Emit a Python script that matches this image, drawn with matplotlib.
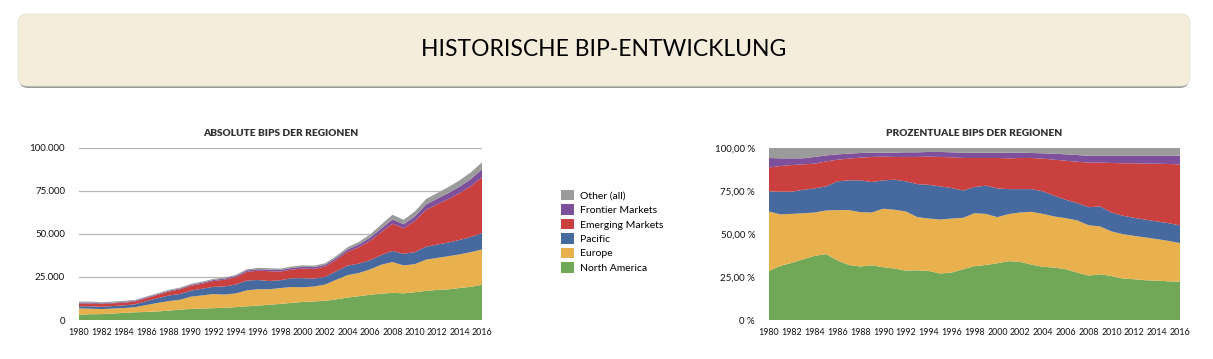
import numpy as np
import matplotlib.pyplot as plt
from matplotlib.patches import FancyBboxPatch, Patch
from matplotlib.ticker import FuncFormatter

plt.rcParams['font.family'] = ['Lato', 'DejaVu Sans']

years = np.arange(1980, 2017)

# total GDP (all regions)
total = [10.7, 10.7, 10.3, 10.7, 11.1, 11.7, 13.6, 15.5, 17.5, 18.8,
         21.0, 22.3, 23.9, 24.7, 26.2, 29.5, 30.3, 30.1, 29.9, 31.1,
         31.8, 31.6, 33.0, 37.3, 42.3, 45.4, 49.7, 55.5, 61.2, 58.3,
         63.1, 70.3, 73.8, 77.3, 81.2, 85.8, 91.7]  # thousands

# regional shares in percent
north_america = [28.5, 31.5, 33.2, 35.3, 37.3, 38.3, 34.6, 32.0, 31.1, 31.8,
                 30.7, 29.9, 28.7, 28.9, 28.5, 27.0, 27.6, 29.5, 31.3, 32.0,
                 33.0, 34.2, 33.8, 32.2, 30.9, 30.5, 29.5, 27.6, 25.8, 26.6,
                 25.6, 24.1, 23.7, 23.1, 22.9, 22.5, 22.3]
europe = [34.6, 29.9, 28.5, 26.8, 25.2, 25.4, 29.3, 31.9, 31.6, 30.7,
          34.0, 34.2, 34.4, 30.9, 30.5, 31.4, 31.4, 29.9, 30.8, 29.7,
          26.8, 27.4, 28.7, 30.7, 30.8, 29.7, 29.7, 30.3, 29.3, 27.8,
          25.9, 25.8, 25.2, 24.9, 24.1, 23.5, 22.4]
pacific = [11.7, 13.2, 12.9, 13.6, 14.0, 14.0, 16.7, 17.3, 18.5, 17.7,
           16.5, 17.5, 17.5, 19.2, 19.6, 19.3, 17.7, 15.9, 15.2, 16.4,
           16.7, 14.5, 13.6, 13.2, 13.1, 12.0, 10.7, 10.1, 10.5, 11.6,
           11.0, 10.7, 10.5, 10.3, 10.3, 10.3, 10.3]
emerging = [13.9, 14.9, 15.5, 14.8, 14.4, 14.5, 12.6, 12.6, 13.2, 14.6,
            13.8, 13.2, 14.2, 15.8, 16.4, 17.1, 17.9, 18.9, 16.9, 16.1,
            17.7, 17.9, 18.1, 18.1, 19.0, 21.0, 22.7, 24.0, 25.9, 25.5,
            28.8, 30.5, 31.7, 32.6, 33.6, 34.4, 35.5]
frontier = [5.5, 4.5, 3.9, 3.5, 3.9, 3.5, 3.1, 2.9, 2.7, 2.5,
            2.3, 2.5, 2.7, 2.7, 2.7, 2.9, 2.9, 3.1, 3.1, 3.1,
            3.1, 3.3, 3.1, 2.9, 3.1, 3.5, 3.7, 3.9, 4.0, 4.0,
            4.2, 4.4, 4.4, 4.6, 4.6, 4.8, 5.0]
other = [5.8, 6.0, 6.0, 6.0, 5.2, 4.3, 3.7, 3.3, 2.9, 2.7,
         2.7, 2.7, 2.5, 2.5, 2.3, 2.3, 2.5, 2.7, 2.7, 2.7,
         2.7, 2.7, 2.7, 2.9, 3.1, 3.3, 3.7, 4.1, 4.5, 4.5,
         4.5, 4.5, 4.5, 4.5, 4.5, 4.5, 4.5]

labels = ['North America', 'Europe', 'Pacific', 'Emerging Markets',
          'Frontier Markets', 'Other (all)']
colors = ['#70a858', '#e9b14e', '#4669a0', '#c9403f', '#7e4f9a', '#9b9b9b']

shares = np.array([north_america, europe, pacific, emerging, frontier, other])
absolute = shares / 100.0 * np.array(total) * 1000

fig = plt.figure(figsize=(12.13, 3.59), dpi=100)

# banner
px = 0.01
shadow = FancyBboxPatch((19 * px, (359 - 88) * px), 1170 * px, 73 * px,
                        boxstyle="round,pad=0,rounding_size=0.09",
                        transform=fig.dpi_scale_trans, facecolor='#9a9a9a',
                        edgecolor='none', zorder=0)
banner = FancyBboxPatch((18 * px, (359 - 86) * px), 1172 * px, 72 * px,
                        boxstyle="round,pad=0,rounding_size=0.09",
                        transform=fig.dpi_scale_trans, facecolor='#f4eddc',
                        edgecolor='#e6dfcd', linewidth=0.6, zorder=1)
fig.patches.extend([shadow, banner])
fig.text(0.498, 1 - 49 / 359, 'HISTORISCHE BIP-ENTWICKLUNG', ha='center',
         va='center', fontsize=16.5, color='#000000')

# left: absolute
ax1 = fig.add_axes([79 / 1213, 1 - 320 / 359, 403 / 1213, 172 / 359])
ax1.stackplot(years, absolute, colors=colors, linewidth=0)
ax1.set_xlim(1980, 2016)
ax1.set_ylim(0, 100000)
ax1.set_yticks([0, 25000, 50000, 75000, 100000])
ax1.yaxis.set_major_formatter(FuncFormatter(lambda v, p: f'{int(v):,}'.replace(',', '.')))
ax1.grid(axis='y', color='#b5b5b5', linewidth=0.9)
ax1.set_axisbelow(True)
ax1.set_title('ABSOLUTE BIPS DER REGIONEN', fontsize=7.3, fontweight='heavy',
              color='#333333', pad=9)

# right: percentage
ax2 = fig.add_axes([769 / 1213, 1 - 320 / 359, 411 / 1213, 172 / 359])
ax2.stackplot(years, shares, colors=colors, linewidth=0)
ax2.set_xlim(1980, 2016)
ax2.set_ylim(0, 100)
ax2.set_yticks([0, 25, 50, 75, 100])
ax2.yaxis.set_major_formatter(FuncFormatter(
    lambda v, p: '0 %' if v == 0 else f'{v:.2f} %'.replace('.', ',')))
ax2.set_title('PROZENTUALE BIPS DER REGIONEN', fontsize=7.3, fontweight='heavy',
              color='#333333', pad=9)

for ax in (ax1, ax2):
    ax.set_xticks(years[::2])
    ax.tick_params(axis='x', pad=6, labelsize=6.4, length=0, colors='#111111')
    ax.tick_params(axis='y', pad=10, labelsize=7, length=0, colors='#111111')
    for s in ax.spines.values():
        s.set_visible(False)

handles = [Patch(facecolor=c, edgecolor='none') for c in colors][::-1]
fig.legend(handles, labels[::-1], loc='upper left',
           bbox_to_anchor=(561 / 1213, 1 - 190 / 359), frameon=False,
           fontsize=7.5, handlelength=1.2, handleheight=1.15,
           handletextpad=0.65, labelspacing=0.36, borderpad=0, borderaxespad=0)

fig.savefig('out.png', dpi=100)
